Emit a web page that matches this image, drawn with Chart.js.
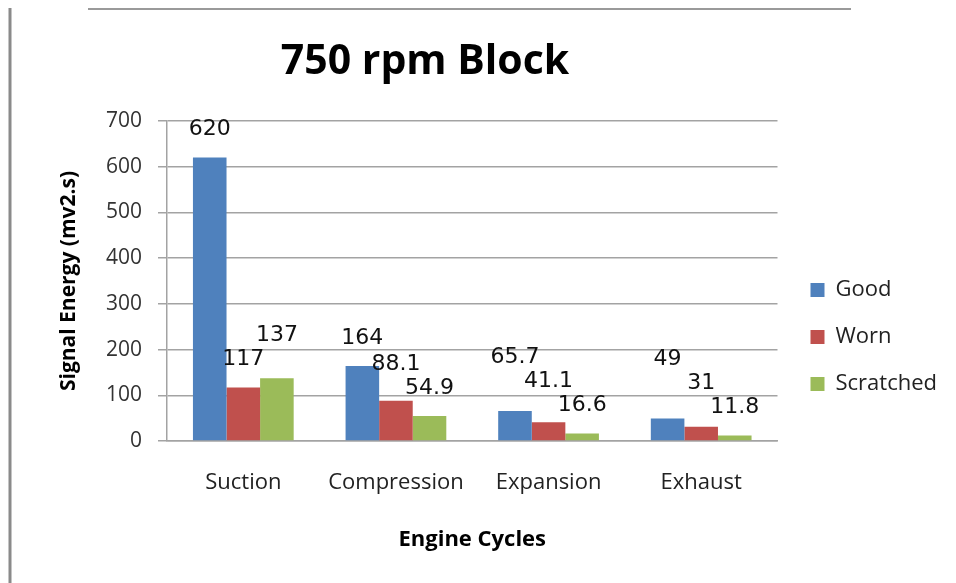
<!DOCTYPE html>
<html>
<head>
<meta charset="utf-8">
<script src="https://cdn.jsdelivr.net/npm/chart.js@4"></script>
<style>
  html, body { margin: 0; padding: 0; background: #ffffff; }
  #wrap { position: relative; width: 956px; height: 583px; }
</style>
</head>
<body>
<div id="wrap"><canvas id="chart" width="956" height="583"></canvas></div>
<script>
const categories = ["Suction", "Compression", "Expansion", "Exhaust"];
const goodValues = [620, 164, 65.7, 49];
const wornValues = [117, 88.1, 41.1, 31];
const scratchedValues = [137, 54.9, 16.6, 11.8];
const yTicks = [0, 100, 200, 300, 400, 500, 600, 700];

const blue = "#4F81BD";
const red = "#C0504D";
const green = "#9BBB59";
const gridGray = "#a3a3a3";
const textDark = "#222222";

// title + the page frame lines
const frameAndTitle = {
  id: "frameAndTitle",
  beforeDraw(chart) {
    const ctx = chart.ctx;
    ctx.save();
    ctx.strokeStyle = "#9a9a9a";
    ctx.lineWidth = 2;
    ctx.beginPath();
    ctx.moveTo(88, 9);
    ctx.lineTo(851, 9);
    ctx.stroke();
    ctx.strokeStyle = "#8a8a8a";
    ctx.lineWidth = 3;
    ctx.beginPath();
    ctx.moveTo(10, 8);
    ctx.lineTo(10, 583);
    ctx.stroke();
    ctx.restore();
  },
  afterDraw(chart) {
    const ctx = chart.ctx;
    ctx.save();
    ctx.font = "bold 41px 'Open Sans'";
    ctx.fillStyle = "#000000";
    ctx.textAlign = "center";
    ctx.textBaseline = "middle";
    ctx.fillText("750 rpm Block", 425, 62);
    ctx.restore();
  }
};

// push the legend a bit away from the plot
const legendShift = {
  id: "legendShift",
  afterLayout(chart) {
    chart.legend.left += 8;
    chart.legend.right += 8;
  }
};

// value labels above each bar; when two labels in a group collide,
// the taller bar's label is pushed up over the other one
const valueLabels = {
  id: "valueLabels",
  afterDatasetsDraw(chart) {
    const ctx = chart.ctx;
    const lift = 28, rowH = 24, padX = 4;
    ctx.save();
    ctx.font = "22px 'DejaVu Sans'";
    ctx.fillStyle = "#111111";
    ctx.textAlign = "center";
    ctx.textBaseline = "middle";
    categories.forEach((cat, j) => {
      const items = chart.data.datasets.map((ds, i) => {
        const bar = chart.getDatasetMeta(i).data[j];
        const text = String(ds.data[j]);
        return { text, x: bar.x, barY: bar.y, y: bar.y - lift, w: ctx.measureText(text).width + padX * 2 };
      });
      items.sort((a, b) => b.barY - a.barY);
      const placed = [];
      items.forEach(it => {
        let moved = true;
        while (moved) {
          moved = false;
          placed.forEach(p => {
            if (Math.abs(it.x - p.x) < (it.w + p.w) / 2 && Math.abs(it.y - p.y) < rowH) {
              it.y = p.y - rowH;
              moved = true;
            }
          });
        }
        placed.push(it);
        ctx.fillText(it.text, it.x, it.y);
      });
    });
    ctx.restore();
  }
};

new Chart(document.getElementById("chart"), {
  type: "bar",
  data: {
    labels: categories,
    datasets: [
      { label: "Good", data: goodValues, backgroundColor: blue, borderWidth: 0 },
      { label: "Worn", data: wornValues, backgroundColor: red, borderWidth: 0 },
      { label: "Scratched", data: scratchedValues, backgroundColor: green, borderWidth: 0 }
    ]
  },
  options: {
    responsive: false,
    animation: false,
    devicePixelRatio: 1,
    layout: { padding: { left: 52, right: 17, top: 121, bottom: 30 } },
    datasets: {
      bar: { categoryPercentage: 0.66, barPercentage: 1.0 }
    },
    scales: {
      x: {
        grid: { display: false, drawTicks: false },
        border: { color: gridGray, width: 1.5 },
        ticks: { color: textDark, font: { family: "Open Sans", size: 22 }, padding: 29 },
        title: {
          display: true,
          text: "Engine Cycles",
          color: "#000000",
          font: { family: "Open Sans", size: 22, weight: "bold" },
          padding: { top: 7, bottom: 0 }
        },
        afterFit(scale) { scale.height = 112; }
      },
      y: {
        min: 0,
        max: 700,
        afterBuildTicks(scale) { scale.ticks = yTicks.map(v => ({ value: v })); },
        grid: { color: gridGray, lineWidth: 1.5, tickLength: 9 },
        border: { color: gridGray, width: 1.5 },
        ticks: { color: "#333333", font: { family: "Open Sans", size: 21 }, padding: 16 },
        title: {
          display: true,
          text: "Signal Energy (mv2.s)",
          color: "#000000",
          font: { family: "Open Sans", size: 21, weight: "bold" },
          padding: { top: 4, bottom: 0 }
        },
        afterFit(scale) { scale.width = 115; }
      }
    },
    plugins: {
      legend: {
        position: "right",
        labels: {
          color: textDark,
          font: { family: "Open Sans", size: 22 },
          boxWidth: 14,
          boxHeight: 14,
          padding: 25
        }
      },
      tooltip: { enabled: false }
    }
  },
  plugins: [frameAndTitle, legendShift, valueLabels]
});
</script>
</body>
</html>
